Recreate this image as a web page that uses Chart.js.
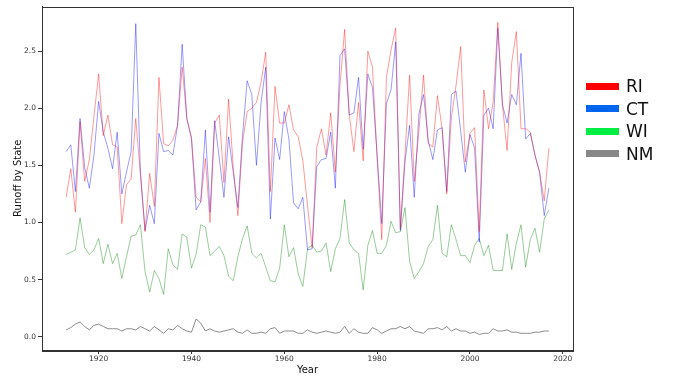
<!DOCTYPE html>
<html lang="en">
<head>
  <meta charset="UTF-8">
  <title>Runoff by State</title>
  <style>
    html, body { margin: 0; padding: 0; background: #fff; }
    #wrap { position: relative; width: 673px; height: 379px; }
    #legend { position: absolute; left: 586px; top: 75px; font-family: "DejaVu Sans", sans-serif; font-size: 17px; color: #111; }
    .item { display: flex; align-items: center; height: 22.5px; }
    .swatch { width: 33px; height: 7px; margin-right: 7px; }
  </style>
</head>
<body>
<div id="wrap">
  <canvas id="myChart" width="673" height="379"></canvas>
  <div id="legend"></div>
</div>

<script src="https://cdn.jsdelivr.net/npm/chart.js"></script>
<script>
  // Years 1913 - 2017
  var startYear = 1913;

  var ri = [1.22, 1.47, 1.09, 1.88, 1.36, 1.55, 1.93, 2.30, 1.76, 1.94,
            1.68, 1.66, 0.99, 1.33, 1.38, 1.91, 1.42, 0.92, 1.43, 1.14,
            2.27, 1.69, 1.67, 1.72, 1.85, 2.36, 1.91, 1.75, 1.22, 1.18,
            1.56, 1.00, 1.87, 1.94, 1.35, 2.08, 1.49, 1.06, 1.70, 1.97,
            2.00, 2.05, 2.23, 2.49, 1.27, 2.19, 1.87, 1.87, 2.03, 1.81,
            1.75, 1.54, 1.15, 0.78, 1.66, 1.82, 1.59, 1.96, 1.44, 2.20,
            2.69, 1.94, 1.62, 2.05, 1.54, 2.50, 2.36, 1.56, 0.85, 2.27,
            2.51, 2.70, 0.95, 1.59, 2.29, 1.36, 1.80, 2.29, 1.69, 1.66,
            2.11, 1.82, 1.25, 1.92, 2.20, 2.54, 1.53, 1.78, 1.83, 0.92,
            2.16, 1.82, 2.05, 2.75, 2.03, 1.63, 2.40, 2.67, 1.82, 1.82,
            1.79, 1.59, 1.44, 1.19, 1.65];

  var ct = [1.62, 1.68, 1.27, 1.91, 1.48, 1.30, 1.59, 2.06, 1.79, 1.65,
            1.47, 1.79, 1.25, 1.44, 1.62, 2.74, 1.45, 0.93, 1.15, 0.99,
            1.78, 1.62, 1.63, 1.59, 1.85, 2.56, 1.91, 1.73, 1.11, 1.18,
            1.81, 1.09, 1.89, 1.56, 1.22, 1.75, 1.44, 1.13, 1.76, 2.24,
            2.12, 1.50, 2.05, 2.36, 1.03, 1.74, 1.55, 1.97, 1.73, 1.17,
            1.12, 1.22, 0.76, 0.77, 1.49, 1.55, 1.56, 1.79, 1.30, 2.46,
            2.52, 1.94, 1.96, 2.27, 1.64, 2.30, 2.18, 1.59, 0.99, 2.04,
            2.16, 2.58, 0.93, 1.53, 1.85, 1.22, 1.95, 2.12, 1.72, 1.55,
            1.81, 1.83, 1.27, 2.12, 2.15, 1.80, 1.44, 1.77, 1.65, 0.83,
            1.94, 2.00, 1.82, 2.70, 2.03, 1.87, 2.12, 2.03, 2.48, 1.73,
            1.78, 1.59, 1.44, 1.06, 1.30];

  var wi = [0.72, 0.74, 0.76, 1.04, 0.78, 0.72, 0.76, 0.86, 0.64, 0.81,
            0.64, 0.73, 0.51, 0.70, 0.88, 0.89, 0.98, 0.57, 0.39, 0.58,
            0.51, 0.37, 0.77, 0.63, 0.59, 0.90, 0.87, 0.60, 0.72, 0.98,
            0.96, 0.71, 0.75, 0.79, 0.71, 0.53, 0.49, 0.70, 0.86, 0.97,
            0.73, 0.69, 0.73, 0.61, 0.49, 0.48, 0.60, 0.98, 0.70, 0.78,
            0.55, 0.44, 0.77, 0.80, 0.74, 0.75, 0.82, 0.57, 0.77, 0.86,
            1.20, 0.82, 0.76, 0.73, 0.41, 0.80, 0.93, 0.73, 0.73, 0.80,
            1.01, 0.91, 0.92, 1.13, 0.66, 0.51, 0.57, 0.64, 0.79, 0.85,
            1.15, 0.73, 0.70, 0.98, 0.85, 0.71, 0.71, 0.65, 0.80, 0.86,
            0.71, 0.80, 0.58, 0.58, 0.58, 0.90, 0.59, 0.82, 0.98, 0.61,
            0.85, 0.95, 0.74, 1.03, 1.11];

  var nm = [0.06, 0.08, 0.11, 0.13, 0.09, 0.06, 0.10, 0.11, 0.09, 0.07,
            0.07, 0.07, 0.05, 0.07, 0.07, 0.06, 0.09, 0.07, 0.05, 0.09,
            0.06, 0.03, 0.07, 0.06, 0.10, 0.07, 0.05, 0.04, 0.155, 0.12,
            0.05, 0.07, 0.05, 0.04, 0.05, 0.06, 0.07, 0.04, 0.03, 0.06,
            0.03, 0.03, 0.04, 0.03, 0.07, 0.08, 0.03, 0.05, 0.05, 0.05,
            0.03, 0.03, 0.06, 0.04, 0.03, 0.04, 0.05, 0.04, 0.03, 0.04,
            0.09, 0.03, 0.07, 0.04, 0.03, 0.03, 0.08, 0.06, 0.03, 0.05,
            0.07, 0.07, 0.09, 0.07, 0.09, 0.05, 0.04, 0.03, 0.07, 0.07,
            0.08, 0.06, 0.09, 0.05, 0.07, 0.05, 0.05, 0.03, 0.04, 0.02,
            0.03, 0.03, 0.07, 0.05, 0.05, 0.06, 0.04, 0.04, 0.03, 0.03,
            0.03, 0.04, 0.04, 0.05, 0.05];

  var xTicks = [1920, 1940, 1960, 1980, 2000, 2020];
  var yTicks = [0.0, 0.5, 1.0, 1.5, 2.0, 2.5];

  function points(values) {
    return values.map(function (v, i) { return { x: startYear + i, y: v }; });
  }

  var series = [
    { label: 'RI', data: ri, line: 'rgba(255, 0, 0, 0.4)', key: '#ff0000' },
    { label: 'CT', data: ct, line: 'rgba(0, 0, 255, 0.4)', key: '#0066ee' },
    { label: 'WI', data: wi, line: 'rgba(0, 128, 0, 0.4)', key: '#00ee44' },
    { label: 'NM', data: nm, line: 'rgba(128, 128, 128, 0.9)', key: '#888888' }
  ];

  // legend (html)
  var legend = document.getElementById('legend');
  series.forEach(function (s) {
    var row = document.createElement('div');
    row.className = 'item';
    row.innerHTML = '<span class="swatch" style="background:' + s.key + '"></span>' + s.label;
    legend.appendChild(row);
  });

  // box round the plot area, like matplotlib spines
  var frame = {
    id: 'frame',
    afterDraw: function (chart) {
      var a = chart.chartArea, c = chart.ctx;
      c.save();
      c.strokeStyle = '#333';
      c.lineWidth = 1;
      c.strokeRect(Math.round(a.left) + 0.5, Math.round(a.top) + 0.5,
                   Math.round(a.right - a.left), Math.round(a.bottom - a.top));
      c.restore();
    }
  };

  var tickFont = { family: 'DejaVu Sans', size: 7.5 };

  var ctx = document.getElementById('myChart').getContext('2d');
  var myChart = new Chart(ctx, {
    type: 'line',
    data: {
      datasets: series.map(function (s) {
        return {
          label: s.label,
          data: points(s.data),
          borderColor: s.line,
          borderWidth: 1,
          pointRadius: 0,
          tension: 0,
          fill: false
        };
      })
    },
    options: {
      responsive: false,
      animation: false,
      events: [],
      layout: { padding: { left: 0, right: 100, top: 5, bottom: 0 } },
      plugins: { legend: { display: false }, tooltip: { enabled: false } },
      scales: {
        x: {
          type: 'linear',
          min: 1907.8,
          max: 2022.2,
          afterBuildTicks: function (scale) {
            scale.ticks = xTicks.map(function (v) { return { value: v }; });
          },
          afterFit: function (scale) { scale.height = 29; },
          grid: { display: true, drawOnChartArea: false, drawTicks: true, tickLength: 4, color: '#333' },
          border: { display: true, color: '#333' },
          ticks: { color: '#333', font: tickFont, padding: 1, maxRotation: 0,
                   callback: function (v) { return String(v); } },
          title: { display: true, text: 'Year', color: '#111',
                   font: { family: 'DejaVu Sans', size: 10 }, padding: { top: 0, bottom: 3 } }
        },
        y: {
          min: -0.116,
          max: 2.89,
          afterBuildTicks: function (scale) {
            scale.ticks = yTicks.map(function (v) { return { value: v }; });
          },
          afterFit: function (scale) { scale.width = 42; },
          grid: { display: true, drawOnChartArea: false, drawTicks: true, tickLength: 4, color: '#333' },
          border: { display: true, color: '#333' },
          ticks: { color: '#333', font: tickFont, padding: 2,
                   callback: function (v) { return v.toFixed(1); } },
          title: { display: true, text: 'Runoff by State', color: '#111',
                   font: { family: 'DejaVu Sans', size: 10 }, padding: { top: 12, bottom: 4 } }
        }
      }
    },
    plugins: [frame]
  });
</script>
</body>
</html>
